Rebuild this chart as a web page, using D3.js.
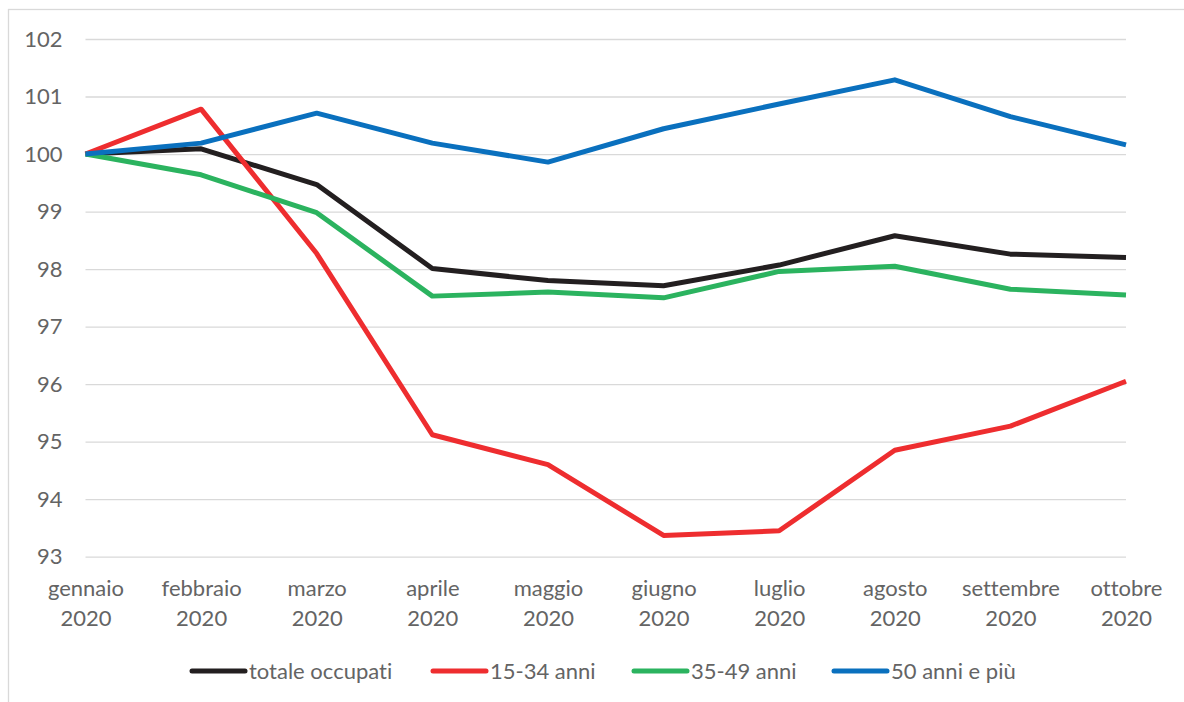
<!DOCTYPE html>
<html>
<head>
<meta charset="utf-8">
<script src="https://cdn.jsdelivr.net/npm/d3@7"></script>
<style>
  html, body { margin: 0; padding: 0; background: #fff; }
  svg { display: block; }
  text { font-family: Lato, "Open Sans", sans-serif; fill: #646464; font-variant-ligatures: none; }
</style>
</head>
<body>
<svg id="chart" width="1184" height="702"></svg>
<script>
// Mesi (etichette su due righe)
const months = ["gennaio", "febbraio", "marzo", "aprile", "maggio", "giugno", "luglio", "agosto", "settembre", "ottobre"];
const year = "2020";

// Indici occupati, gennaio 2020 = 100
const totaleOccupati = [100, 100.09, 99.47, 98.01, 97.80, 97.71, 98.07, 98.58, 98.26, 98.20];
const anni15_34      = [100, 100.78, 98.27, 95.12, 94.60, 93.37, 93.45, 94.85, 95.27, 96.05];
const anni35_49      = [100, 99.64, 98.98, 97.53, 97.60, 97.50, 97.96, 98.05, 97.65, 97.55];
const anni50piu      = [100, 100.19, 100.71, 100.19, 99.86, 100.44, 100.87, 101.29, 100.65, 100.16];

const yTicks = [93, 94, 95, 96, 97, 98, 99, 100, 101, 102];

const series = [
  { name: "totale occupati", values: totaleOccupati, color: "#231f20" },
  { name: "15-34 anni",      values: anni15_34,      color: "#ee2d2f" },
  { name: "35-49 anni",      values: anni35_49,      color: "#2bb35f" },
  { name: "50 anni e più",   values: anni50piu,      color: "#0a70be" }
];

const fontSize = 22;
const textColor = "#646464";

const svg = d3.select("#chart");

// Cornice dell'area grafico
svg.append("rect")
  .attr("x", 8.5).attr("y", 9.5)
  .attr("width", 1200).attr("height", 720)
  .attr("fill", "none").attr("stroke", "#d9d9d9").attr("stroke-width", 1.3);

const x = d3.scalePoint().domain(months).range([85.5, 1126]);
const y = d3.scaleLinear().domain([93, 102]).range([556.7, 39]);

// Griglia orizzontale ed etichette asse Y
const yAxis = svg.append("g")
  .attr("transform", "translate(85.5,0)")
  .call(d3.axisLeft(y).tickValues(yTicks).tickSize(-(1126 - 85.5)).tickPadding(23).tickFormat(d3.format("d")));
yAxis.select(".domain").remove();
yAxis.selectAll(".tick line").attr("stroke", "#d9d9d9").attr("stroke-width", 1.3);
yAxis.selectAll(".tick text")
  .style("font-family", "Lato, 'Open Sans', sans-serif")
  .attr("font-size", fontSize).attr("fill", textColor);

// Etichette asse X (mese + anno)
const xAxis = svg.append("g")
  .attr("transform", "translate(0,556.7)")
  .call(d3.axisBottom(x).tickSize(0).tickPadding(0).tickFormat(""));
xAxis.select(".domain").remove();
xAxis.selectAll(".tick").each(function(d) {
  const t = d3.select(this).append("text")
    .attr("text-anchor", "middle")
    .attr("font-size", fontSize)
    .attr("fill", textColor);
  t.append("tspan").attr("x", 0).attr("y", 39).text(d);
  t.append("tspan").attr("x", 0).attr("y", 69).text(year);
});

// Linee delle serie
const line = d3.line()
  .x((d, i) => x(months[i]))
  .y(d => y(d));

svg.append("g").selectAll("path")
  .data(series)
  .join("path")
  .attr("d", s => line(s.values))
  .attr("fill", "none")
  .attr("stroke", s => s.color)
  .attr("stroke-width", 5)
  .attr("stroke-linejoin", "round");

// Legenda
const legendX = [190, 431, 632, 832];
const legend = svg.append("g").attr("transform", "translate(0,671)");
series.forEach((s, i) => {
  const g = legend.append("g").attr("transform", `translate(${legendX[i]},0)`);
  g.append("line")
    .attr("x1", 2).attr("x2", 55).attr("y1", 0).attr("y2", 0)
    .attr("stroke", s.color).attr("stroke-width", 5).attr("stroke-linecap", "round");
  g.append("text")
    .attr("x", 59).attr("y", 8)
    .attr("font-size", fontSize).attr("fill", textColor)
    .text(s.name);
});
</script>
</body>
</html>
